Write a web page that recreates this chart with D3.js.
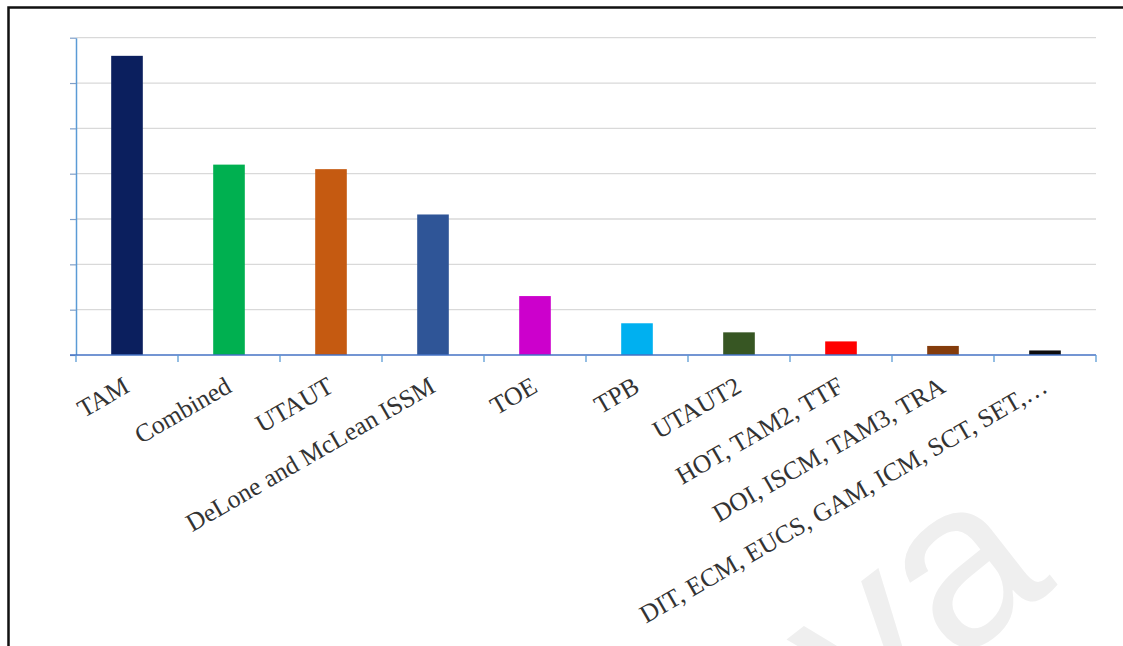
<!DOCTYPE html>
<html>
<head>
<meta charset="utf-8">
<script src="https://cdn.jsdelivr.net/npm/d3@7"></script>
<style>
  html, body { margin: 0; padding: 0; background: #fff; }
  svg { display: block; }
</style>
</head>
<body>
<svg id="chart" width="1123" height="646"></svg>
<script>
// Number of studies per theory / model
const categories = [
  "TAM", "Combined", "UTAUT", "DeLone and McLean ISSM", "TOE", "TPB",
  "UTAUT2", "HOT, TAM2, TTF", "DOI, ISCM, TAM3, TRA",
  "DIT, ECM, EUCS, GAM, ICM, SCT, SET,\u2026"
];
const counts = [66, 42, 41, 31, 13, 7, 5, 3, 2, 1];
const barColors = [
  "#0b1f5e", "#00b050", "#c55a11", "#2f5597", "#cc00cc",
  "#00b0f0", "#375623", "#ff0000", "#843c0c", "#0d0d0d"
];
const yTicks = [0, 10, 20, 30, 40, 50, 60, 70];

const svg = d3.select("#chart");
const W = 1123, H = 646;
const margin = { left: 76, right: 27, top: 37.7, bottom: 291 };

// Faint watermark in the lower right
svg.append("text")
  .attr("transform", "translate(1058,585) rotate(-38)")
  .attr("text-anchor", "end")
  .attr("font-family", "Liberation Sans, Arial, sans-serif")
  .attr("font-size", 235)
  .attr("fill", "#efefef")
  .text("ya");

// Outer frame
svg.append("rect")
  .attr("x", 8.5).attr("y", 7.5)
  .attr("width", W + 10).attr("height", H + 10)
  .attr("fill", "none")
  .attr("stroke", "#111")
  .attr("stroke-width", 2.5);

const x = d3.scaleBand()
  .domain(categories)
  .range([margin.left, W - margin.right])
  .padding(0);

const y = d3.scaleLinear()
  .domain([0, 70])
  .range([H - margin.bottom, margin.top]);

// Gridlines
svg.append("g")
  .selectAll("line")
  .data(yTicks.filter(d => d > 0))
  .join("line")
  .attr("x1", margin.left)
  .attr("x2", W - margin.right)
  .attr("y1", d => y(d))
  .attr("y2", d => y(d))
  .attr("stroke", "#d9d9d9")
  .attr("stroke-width", 1.3);

// Bars
const barW = x.bandwidth() * 0.31;
svg.append("g")
  .selectAll("rect")
  .data(categories)
  .join("rect")
  .attr("x", d => x(d) + (x.bandwidth() - barW) / 2)
  .attr("y", (d, i) => y(counts[i]))
  .attr("width", barW)
  .attr("height", (d, i) => y(0) - y(counts[i]))
  .attr("fill", (d, i) => barColors[i]);

// Y axis: line with outward ticks, no labels
const yAxis = svg.append("g")
  .attr("transform", `translate(${margin.left},0)`)
  .call(d3.axisLeft(y).tickValues(yTicks).tickSize(6).tickSizeOuter(0).tickFormat(""));
yAxis.select(".domain").attr("stroke", "#5b9bd5").attr("stroke-width", 1.5);
yAxis.selectAll(".tick line").attr("stroke", "#7f9fc8").attr("stroke-width", 1.2);

// X axis: category boundary ticks pointing down
const xAxisG = svg.append("g")
  .attr("transform", `translate(0,${y(0)})`);
xAxisG.append("line")
  .attr("x1", margin.left - 6)
  .attr("x2", W - margin.right)
  .attr("stroke", "#4472c4")
  .attr("stroke-width", 1.5);
const bounds = categories.map(d => x(d)).concat([x(categories[categories.length - 1]) + x.bandwidth()]);
xAxisG.selectAll("line.tk")
  .data(bounds)
  .join("line")
  .attr("class", "tk")
  .attr("x1", d => d).attr("x2", d => d)
  .attr("y1", 0).attr("y2", 7)
  .attr("stroke", "#5b9bd5")
  .attr("stroke-width", 1.3);

// Rotated category labels
svg.append("g")
  .selectAll("text")
  .data(categories)
  .join("text")
  .attr("transform", d => `translate(${x(d) + x.bandwidth() / 2 + 4},${y(0) + 36}) rotate(-30)`)
  .attr("text-anchor", "end")
  .attr("font-family", "Liberation Serif, Times New Roman, serif")
  .attr("font-size", 25.5)
  .attr("fill", "#333")
  .text(d => d);
</script>
</body>
</html>
